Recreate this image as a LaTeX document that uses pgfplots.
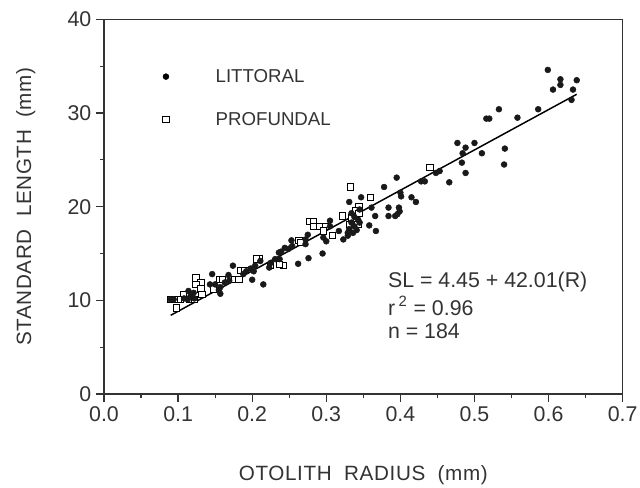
\documentclass[border=0pt]{standalone}
\usepackage{pgfplots}
\pgfplotsset{compat=1.18}
\usepackage{fontspec}
\setmainfont{Liberation Sans}
\newfontfamily\labfont[LetterSpace=3]{Liberation Sans}

\definecolor{ink}{gray}{0.2}

\pgfplotstableread{
x y
0.599 34.6
0.606 32.5
0.616 33.6
0.616 33.0
0.638 33.5
0.633 32.5
0.631 31.4
0.586 30.4
0.533 30.4
0.516 29.4
0.520 29.4
0.558 29.5
0.541 26.2
0.540 24.5
0.477 26.8
0.488 26.3
0.500 26.8
0.510 25.7
0.484 25.7
0.483 24.7
0.488 23.6
0.466 22.6
0.453 23.8
0.448 23.6
0.395 23.1
0.428 22.7
0.433 22.7
0.378 22.1
0.400 21.5
0.401 21.1
0.415 21.0
0.421 20.5
0.384 19.9
0.384 19.0
0.398 19.9
0.399 19.5
0.396 19.2
0.393 19.0
0.366 19.0
0.367 17.4
0.358 18.0
0.361 19.9
0.347 21.0
0.331 20.5
0.334 19.3
0.338 18.9
0.343 18.6
0.334 18.3
0.338 17.9
0.345 18.3
0.331 17.6
0.341 17.5
0.336 17.2
0.329 17.2
0.345 19.7
0.323 16.5
0.329 16.9
0.317 17.4
0.305 18.5
0.305 17.9
0.296 16.7
0.300 16.3
0.295 15.0
0.276 14.5
0.262 13.9
0.275 17.0
0.272 16.5
0.272 16.0
0.253 16.4
0.254 15.8
0.249 15.5
0.244 15.6
0.239 15.2
0.236 15.1
0.237 14.4
0.231 14.4
0.225 14.0
0.223 13.5
0.211 14.2
0.204 13.7
0.198 13.4
0.202 13.1
0.192 13.1
0.188 12.8
0.174 13.7
0.168 12.7
0.163 11.9
0.169 12.1
0.200 12.2
0.215 11.7
0.146 12.8
0.143 11.7
0.150 11.7
0.157 11.4
0.155 11.1
0.157 10.7
0.114 11.0
0.121 10.8
0.117 10.5
0.113 10.1
0.108 10.2
0.122 10.2
0.090 10.1
0.094 10.1
}\littoral

\pgfplotstableread{
x y
0.440 24.2
0.333 22.1
0.360 21.0
0.344 20.0
0.322 19.0
0.339 19.6
0.344 19.3
0.334 18.8
0.341 18.5
0.331 18.1
0.338 17.7
0.343 18.1
0.277 18.4
0.283 18.4
0.283 17.9
0.291 17.9
0.299 17.9
0.308 16.9
0.296 17.4
0.263 16.4
0.266 16.2
0.242 13.7
0.237 13.8
0.225 13.7
0.209 14.4
0.206 14.4
0.185 13.2
0.190 13.2
0.177 12.2
0.182 12.2
0.156 12.2
0.160 12.2
0.148 11.2
0.124 12.4
0.131 11.9
0.124 11.7
0.131 11.2
0.132 10.6
0.107 10.6
0.116 10.1
0.122 10.1
0.103 10.1
0.100 10.1
0.095 10.1
0.090 10.1
0.098 9.2
}\profundal

\begin{document}
\begin{tikzpicture}
\useasboundingbox (-78pt,-70.5pt) rectangle (402pt,295.5pt);
\begin{axis}[
    name=ax,
    at={(0,0)}, anchor=south west,
    scale only axis,
    width=389pt, height=281pt,
    clip=false,
    xmin=0, xmax=0.7, ymin=0, ymax=40,
    xtick={0,0.1,...,0.7}, ytick={0,10,...,40},
    minor x tick num=1, minor y tick num=1,
    tick pos=left,
    tick align=outside,
    major tick length=6pt, minor tick length=3pt,
    every tick/.style={ink, line width=0.9pt},
    axis line style={ink, line width=1pt},
    xticklabel style={/pgf/number format/.cd, fixed, fixed zerofill, precision=1},
    /pgf/number format/assume math mode=true,
    tick label style={font=\fontsize{16}{18}\selectfont, text=ink},
    label style={font=\labfont\fontsize{15.5}{18}\selectfont, text=ink},
    xlabel={OTOLITH\hspace{0.6em}RADIUS\hspace{0.6em}(mm)},
    ylabel={STANDARD\hspace{0.6em}LENGTH\hspace{0.6em}(mm)},
    xlabel style={at={(axis description cs:0.5,0)}, anchor=north, yshift=-50pt},
    ylabel style={at={(axis description cs:0,0.5)}, anchor=south, yshift=48pt},
    legend style={draw=none, fill=none, at={(axis description cs:0.113,0.875)}, anchor=north west,
                  font=\fontsize{14}{16}\selectfont, text=ink, row sep=17pt, inner sep=0pt},
    legend cell align=left,
]
\addlegendimage{only marks, mark=*, mark size=2.2pt, draw=black, fill=black}
\addlegendentry{\hspace{33pt}LITTORAL}
\addlegendimage{only marks, mark=square*, mark size=2.3pt, draw=black, fill=white, line width=0.7pt}
\addlegendentry{\hspace{33pt}PROFUNDAL}

\addplot[forget plot, only marks, mark=square*, mark size=2.4pt, draw=black, fill=white, line width=0.7pt] table {\profundal};
\addplot[forget plot, only marks, mark=*, mark size=2.2pt, draw=black!90, fill=black!90] table {\littoral};
\addplot[forget plot, black, line width=1.1pt] coordinates {(0.090,8.4) (0.638,32.0)};

\node[anchor=base west, font=\fontsize{16}{18}\selectfont, text=ink, inner sep=0pt]
  at (axis cs:0.383,11.4) {SL = 4.45 + 42.01(R)};
\node[anchor=base west, font=\fontsize{16}{18}\selectfont, text=ink, inner sep=0pt]
  at (axis cs:0.383,8.4) {r\,\textsuperscript{2} = 0.96};
\node[anchor=base west, font=\fontsize{16}{18}\selectfont, text=ink, inner sep=0pt]
  at (axis cs:0.383,5.9) {n = 184};
\end{axis}
% top and right frame of the box, as thin filled bands
\fill[ink] (-0.5pt,280.4pt) rectangle (389.6pt,281.6pt);
\fill[ink] (388.4pt,-0.5pt) rectangle (389.6pt,281.6pt);
\end{tikzpicture}
\end{document}
